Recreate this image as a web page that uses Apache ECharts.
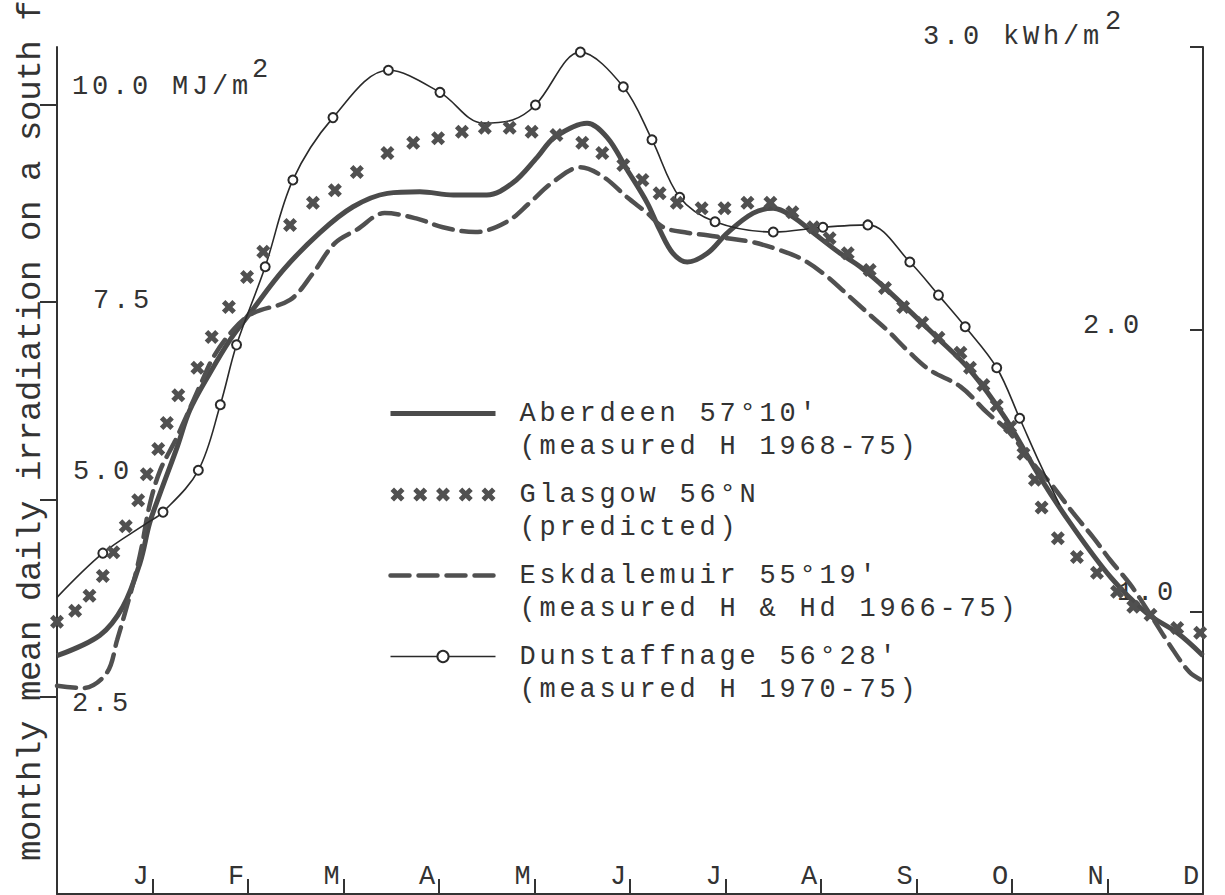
<!DOCTYPE html>
<html>
<head>
<meta charset="utf-8">
<script src="https://cdn.jsdelivr.net/npm/echarts@6/dist/echarts.min.js"></script>
<style>
  html, body { margin: 0; padding: 0; background: #fff; }
  #chart { width: 1225px; height: 895px; }
  /* typewriter pitch: every character cell is about 20px wide */
  #chart text { letter-spacing: 3.8px; }
  #chart text[style*="34px"] { letter-spacing: -0.4px; }
</style>
</head>
<body>
<div id="chart"></div>
<script>
// Month letters; each label sits just before the tick that closes its month
const monthLabels = ['J', 'F', 'M', 'A', 'M', 'J', 'J', 'A', 'S', 'O', 'N', 'D'];

// Stations and their notes (x values are months from 1 January, y values MJ/m² per day)
const seriesNames = ["Aberdeen 57°10'", 'Glasgow 56°N', "Eskdalemuir 55°19'", "Dunstaffnage 56°28'"];
const seriesNotes = ['(measured H 1968-75)', '(predicted)', '(measured H & Hd 1966-75)', '(measured H 1970-75)'];

const aberdeenMonths = [0, 0.45, 0.69, 0.87, 0.97, 1.08, 1.26, 1.39, 1.60, 1.81, 2.02, 2.37, 2.75, 3.10,
  3.46, 3.80, 4.15, 4.50, 4.77, 5.03, 5.21, 5.55, 5.76, 5.97, 6.18, 6.31, 6.45, 6.60, 6.81, 7.02, 7.29,
  7.50, 7.71, 7.92, 8.20, 8.41, 8.69, 9.21, 9.56, 9.93, 10.29, 10.61, 11.03, 11.41, 11.73, 12.0];
const aberdeenValues = [3.02, 3.28, 3.64, 4.20, 4.70, 5.08, 5.67, 6.13, 6.60, 7.02, 7.36, 7.91, 8.38, 8.71,
  8.88, 8.90, 8.86, 8.86, 9.01, 9.34, 9.59, 9.77, 9.59, 9.18, 8.76, 8.42, 8.12, 8.01, 8.12, 8.38, 8.63,
  8.69, 8.58, 8.38, 8.12, 7.95, 7.66, 7.06, 6.64, 6.03, 5.29, 4.70, 4.02, 3.56, 3.31, 3.02];

const glasgowMonths = [0.00, 0.19, 0.34, 0.48, 0.59, 0.72, 0.85, 0.94, 1.06, 1.15, 1.27, 1.47, 1.62, 1.80,
  1.99, 2.16, 2.44, 2.68, 2.91, 3.14, 3.46, 3.73, 3.99, 4.24, 4.48, 4.74, 4.97, 5.23, 5.50, 5.71, 5.93,
  6.13, 6.31, 6.49, 6.75, 6.99, 7.23, 7.47, 7.70, 7.92, 8.09, 8.28, 8.51, 8.67, 8.86, 9.06, 9.23, 9.46,
  9.56, 9.70, 9.84, 9.98, 10.12, 10.24, 10.31, 10.48, 10.68, 10.89, 11.10, 11.27, 11.45, 11.73, 11.97];
const glasgowValues = [3.45, 3.59, 3.78, 4.03, 4.33, 4.66, 4.99, 5.32, 5.64, 5.97, 6.32, 6.67, 7.06, 7.44,
  7.82, 8.14, 8.48, 8.76, 8.92, 9.15, 9.39, 9.52, 9.58, 9.66, 9.71, 9.71, 9.66, 9.62, 9.52, 9.39, 9.24,
  9.05, 8.88, 8.76, 8.69, 8.69, 8.76, 8.76, 8.64, 8.45, 8.31, 8.12, 7.91, 7.68, 7.44, 7.24, 7.05, 6.86,
  6.67, 6.45, 6.19, 5.92, 5.58, 5.25, 4.90, 4.51, 4.27, 4.07, 3.83, 3.64, 3.54, 3.37, 3.31];

const eskdalemuirMonths = [0, 0.27, 0.52, 0.63, 0.73, 0.82, 0.89, 0.97, 1.08, 1.24, 1.36, 1.50, 1.65, 1.86,
  2.05, 2.44, 2.67, 2.91, 3.14, 3.43, 3.77, 4.04, 4.38, 4.71, 4.95, 5.19, 5.48, 5.72, 5.97, 6.18, 6.35,
  6.60, 6.81, 7.02, 7.29, 7.57, 7.81, 8.06, 8.30, 8.54, 8.69, 8.93, 9.14, 9.46, 9.74, 9.95, 10.26, 10.40,
  10.64, 10.85, 11.03, 11.24, 11.45, 11.65, 11.86, 12.0];
const eskdalemuirValues = [2.64, 2.61, 2.80, 3.22, 3.64, 4.04, 4.42, 4.93, 5.37, 5.75, 6.07, 6.45, 6.83, 7.17,
  7.36, 7.53, 7.85, 8.25, 8.42, 8.63, 8.56, 8.45, 8.39, 8.52, 8.76, 9.02, 9.21, 9.09, 8.83, 8.63, 8.45,
  8.38, 8.35, 8.31, 8.26, 8.16, 8.04, 7.83, 7.57, 7.31, 7.15, 6.86, 6.64, 6.43, 6.10, 5.88, 5.40, 5.21,
  4.83, 4.52, 4.23, 3.92, 3.54, 3.16, 2.81, 2.70];

const dunstaffnageMonths = [0, 0.48, 0.94, 1.11, 1.48, 1.71, 1.88, 2.18, 2.47, 2.89, 3.47, 4.01, 4.46, 4.77,
  5.01, 5.48, 5.93, 6.23, 6.52, 6.89, 7.50, 8.02, 8.49, 8.93, 9.23, 9.51, 9.84, 10.08, 10.29, 10.50];
const dunstaffnageValues = [3.76, 4.32, 4.70, 4.84, 5.37, 6.20, 6.96, 7.95, 9.05, 9.84, 10.44, 10.16, 9.77,
  9.81, 10.00, 10.67, 10.23, 9.56, 8.83, 8.52, 8.39, 8.45, 8.48, 8.01, 7.59, 7.19, 6.67, 6.03, 5.46, 4.93];
// 1 = plotted observation (open circle), 0 = point on the faired curve only
const dunstaffnageObserved = [0, 1, 0, 1, 1, 1, 1, 1, 1, 1, 1, 1, 0, 0, 1, 1, 1, 1, 1, 1, 1, 1, 1, 1, 1,
  1, 1, 1, 0, 0];

// Axis ticks and their labels
const monthTickValues = [1, 2, 3, 4, 5, 6, 7, 8, 9, 10, 11, 12];
const leftTickValues = [2.5, 5, 7.5, 10];
const leftTickLabels = ['2.5', '5.0', '7.5', '10.0 MJ/m'];
const rightTickValues = [1, 2, 3];
const rightTickLabels = ['1.0', '2.0', '3.0 kWh/m'];
const unitPower = '2';
const axisTitle = 'monthly mean daily irradiation on a south f';

// ---- drawing ----
const FONT = 'Liberation Mono';
const INK = '#333';
const pairs = (xs, ys) => xs.map((x, i) => [x, ys[i]]);

// heavy typed "x" used for the predicted curve
const crossPath = (ox) => `M${ox},3.5L${ox + 3.5},0L${ox + 7},3.5L${ox + 10.5},0L${ox + 14},3.5L${ox + 10.5},7` +
  `L${ox + 14},10.5L${ox + 10.5},14L${ox + 7},10.5L${ox + 3.5},14L${ox},10.5L${ox + 3.5},7Z`;
const crossSymbol = 'path://' + crossPath(0);
const crossRowIcon = 'path://' + [0, 22.75, 45.5, 68.25, 91].map(crossPath).join('');

const axisLineStyle = { color: INK, width: 2 };

const chart = echarts.init(document.getElementById('chart'), null, { renderer: 'svg', width: 1225, height: 895 });

const option = {
  animation: false,
  backgroundColor: '#fff',
  textStyle: { fontFamily: FONT },
  grid: { left: 57, right: 22, top: 47, bottom: 1 },
  xAxis: {
    type: 'value', min: 0, max: 12, interval: 1,
    axisLine: { lineStyle: axisLineStyle },
    axisTick: { inside: true, length: 15, customValues: monthTickValues, lineStyle: axisLineStyle },
    axisLabel: {
      inside: true, customValues: monthTickValues, align: 'right', margin: 4,
      formatter: v => monthLabels[Math.round(v) - 1],
      fontFamily: FONT, fontSize: 27, color: INK
    },
    splitLine: { show: false }
  },
  yAxis: [
    {
      type: 'value', min: 0, max: 10.735, interval: 2.5, position: 'left',
      axisLine: { show: true, lineStyle: axisLineStyle },
      axisTick: { show: true, inside: false, length: 17, customValues: leftTickValues, lineStyle: axisLineStyle },
      axisLabel: { show: false },
      splitLine: { show: false }
    },
    {
      type: 'value', min: 0, max: 3, interval: 1, position: 'right',
      axisLine: { show: true, lineStyle: axisLineStyle },
      axisTick: { show: true, inside: true, length: 13, customValues: rightTickValues, lineStyle: axisLineStyle },
      axisLabel: { show: false },
      splitLine: { show: false }
    }
  ],
  legend: {
    orient: 'vertical', left: 388, top: 364, padding: 0,
    itemWidth: 105, itemHeight: 14, itemGap: -18, selectedMode: false,
    data: [
      { name: seriesNames[0], itemStyle: { opacity: 0 } },
      { name: seriesNames[1], icon: crossRowIcon },
      { name: seriesNames[2], itemStyle: { opacity: 0 } },
      { name: seriesNames[3] }
    ],
    // empty first line keeps the station name level with its key
    formatter: name => '\n' + name + '\n' + seriesNotes[seriesNames.indexOf(name)],
    textStyle: { fontFamily: FONT, fontSize: 27, color: INK, lineHeight: 33, padding: [0, 0, 0, 19] },
    lineStyle: { width: 'inherit' }
  },
  series: [
    {
      name: seriesNames[0], type: 'line', smooth: 0.35, symbol: 'none',
      data: pairs(aberdeenMonths, aberdeenValues),
      lineStyle: { color: '#4b4b4b', width: 5 },
      itemStyle: { color: '#4b4b4b' }, z: 2
    },
    {
      name: seriesNames[1], type: 'scatter', symbol: crossSymbol, symbolSize: 14,
      data: pairs(glasgowMonths, glasgowValues),
      itemStyle: { color: '#505050', opacity: 1 }, z: 4
    },
    {
      name: seriesNames[2], type: 'line', smooth: 0.35, symbol: 'none',
      data: pairs(eskdalemuirMonths, eskdalemuirValues),
      lineStyle: { color: '#505050', width: 4.5, type: [19, 9], cap: 'round' },
      itemStyle: { color: '#505050' }, z: 2
    },
    {
      name: seriesNames[3], type: 'line', smooth: 0.35, symbol: 'emptyCircle', symbolSize: 9, showSymbol: true,
      data: dunstaffnageMonths.map((m, i) => ({
        value: [m, dunstaffnageValues[i]],
        symbol: dunstaffnageObserved[i] ? 'emptyCircle' : 'none'
      })),
      lineStyle: { color: '#2a2a2a', width: 1.6 },
      itemStyle: { color: '#2a2a2a', borderWidth: 1.5 }, z: 3
    }
  ]
};

chart.setOption(option);

// Tick values written inside the frame, placed from the axes' own scales
const axisLeftX = chart.convertToPixel({ xAxisIndex: 0 }, 0);
const axisRightX = chart.convertToPixel({ xAxisIndex: 0 }, 12);
const yLeft = v => chart.convertToPixel({ yAxisIndex: 0 }, v);
const yRight = v => chart.convertToPixel({ yAxisIndex: 1 }, v);

const leftLabelShift = [[15, 7], [16, -27], [36, -1], [15, -18]];
const rightLabelShift = [[-86, -19], [-120, -3], [-280, -10]];

const textStyle = (text, size) => ({
  text, fontFamily: FONT, fontSize: size || 27, fill: INK, align: 'left', verticalAlign: 'middle'
});

const elements = [];
leftTickValues.forEach((v, i) => {
  elements.push({ type: 'text', x: axisLeftX + leftLabelShift[i][0], y: yLeft(v) + leftLabelShift[i][1],
    style: textStyle(leftTickLabels[i]), silent: true });
});
elements.push({ type: 'text', x: axisLeftX + 195, y: yLeft(10) - 35, style: textStyle(unitPower), silent: true });

rightTickValues.forEach((v, i) => {
  elements.push({ type: 'text', x: axisRightX + rightLabelShift[i][0], y: yRight(v) + rightLabelShift[i][1],
    style: textStyle(rightTickLabels[i]), silent: true });
});
elements.push({ type: 'text', x: axisRightX - 98, y: yRight(3) - 25, style: textStyle(unitPower), silent: true });

// vertical axis title, reading upwards along the left edge
elements.push({ type: 'text', x: 31, y: 861, rotation: Math.PI / 2,
  style: textStyle(axisTitle, 34), silent: true });

chart.setOption({ graphic: { elements } });
</script>
</body>
</html>
